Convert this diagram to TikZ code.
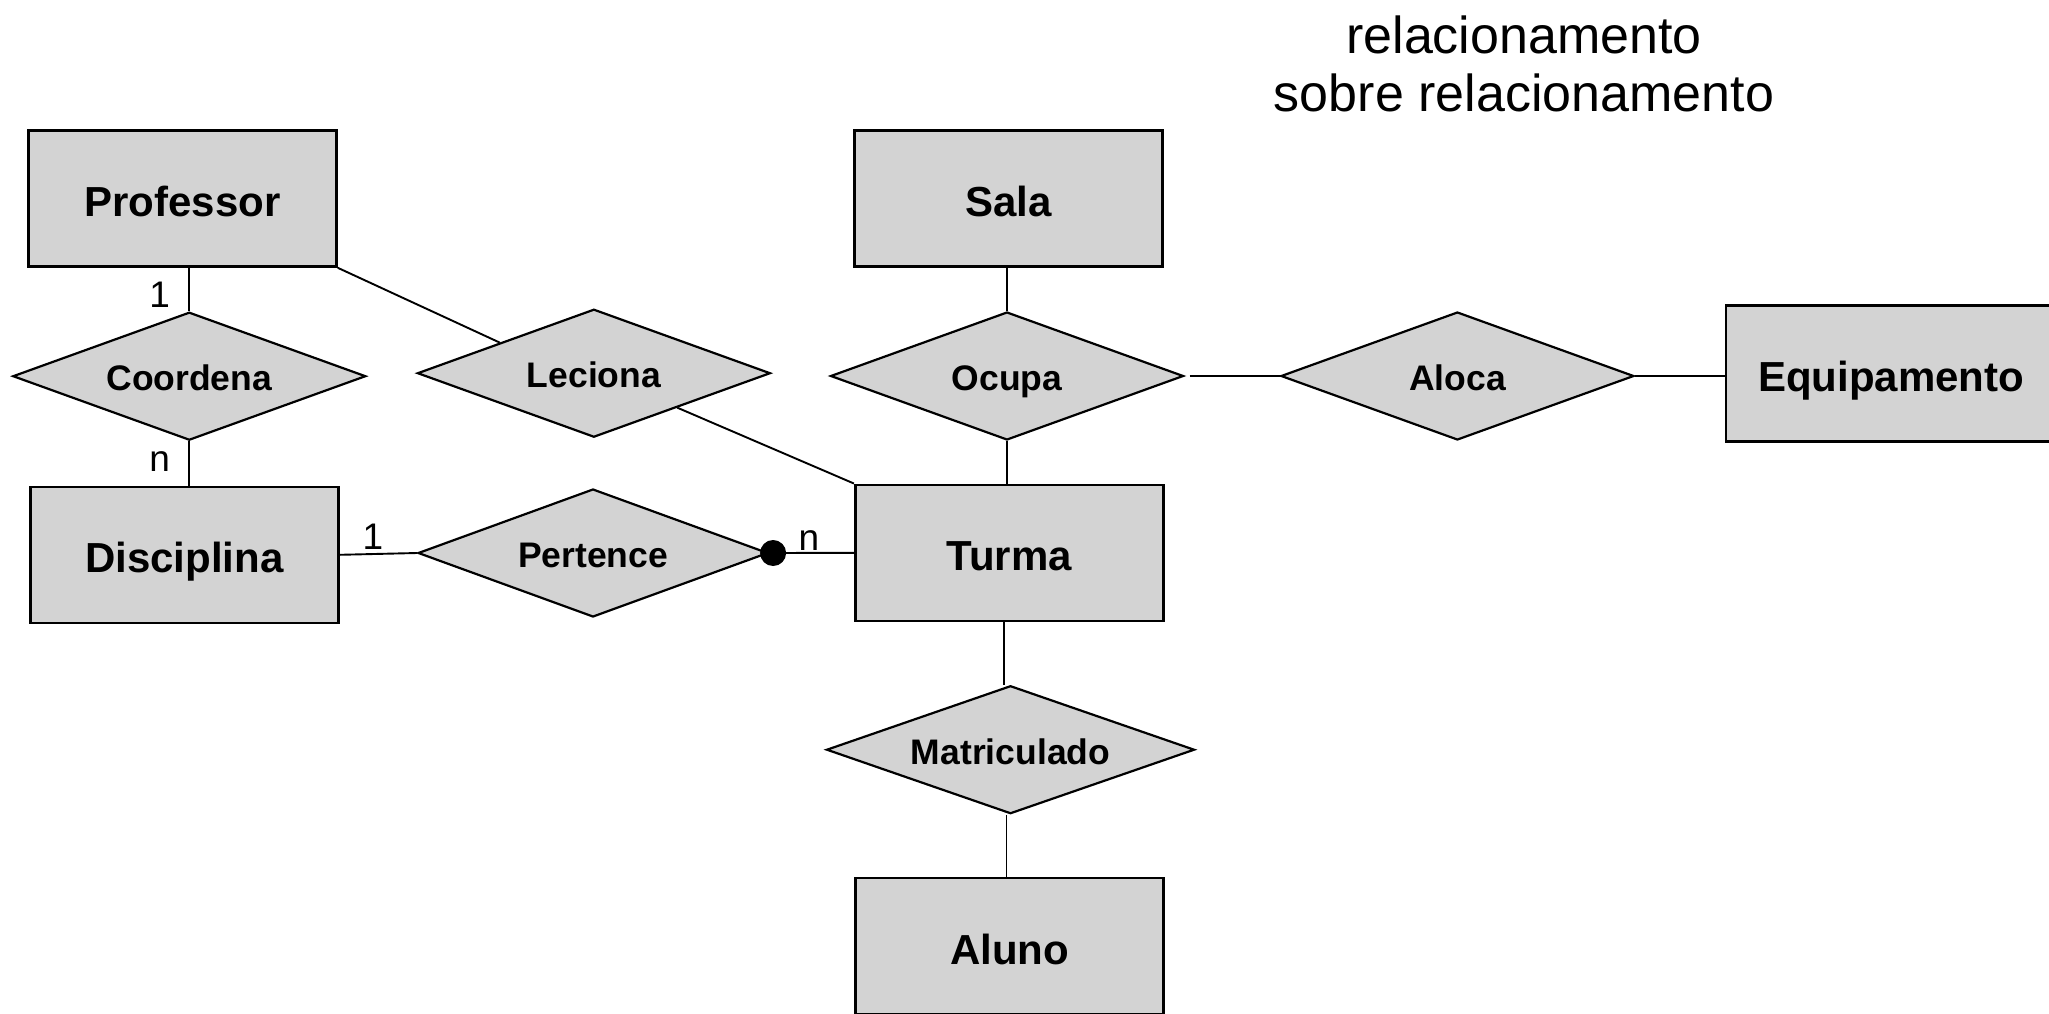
\documentclass[tikz,border=0pt]{standalone}
\usepackage{fontspec}
\setmainfont{Liberation Sans}
\usetikzlibrary{shapes.geometric,calc}
\definecolor{boxgray}{RGB}{211,211,211}
\begin{document}
\begin{tikzpicture}[x=1pt,y=-1pt,
  entity/.style={draw=black, fill=boxgray, line width=2.6pt, minimum width=308pt, minimum height=136pt, inner sep=0pt, text height=36pt, text depth=0pt, font=\fontsize{42}{48}\selectfont\bfseries},
  rel/.style={diamond, draw=black, fill=boxgray, line width=2.2pt, aspect=2.8, minimum width=353pt, minimum height=128pt, inner sep=0pt, text height=29pt, text depth=0pt, font=\fontsize{35.5}{40}\selectfont\bfseries},
  conn/.style={line width=1.9pt},
  card/.style={font=\fontsize{37}{42}\selectfont, inner sep=0pt},
  titletext/.style={font=\fontsize{52}{58}\selectfont, inner sep=0pt, anchor=base}]
\path[use as bounding box] (0,0) rectangle (2049,1013);
\clip (0,0) rectangle (2049,1013);

% title
\node[titletext] (t1) at (1524,53) {relacionamento};
\node[titletext] (t2) at (1524,111) {sobre relacionamento};

% entities
\node[entity] (prof) at (182.5,198.5) {Professor};
\node[entity] (sala) at (1008.4,198.3) {Sala};
\node[entity] (disc) at (184.3,554.8) {Disciplina};
\node[entity] (turma) at (1009.2,552.8) {Turma};
\node[entity] (aluno) at (1009.7,946) {Aluno};
\node[entity, minimum width=330pt] (equip) at (1891,373.3) {Equipamento};

% relationships
\node[rel] (coord) at (189.3,376.2) {Coordena};
\node[rel] (lec) at (593.9,373.2) {Leciona};
\node[rel, minimum width=350pt] (pert) at (593,553) {Pertence};
\node[rel] (ocupa) at (1007,376) {Ocupa};
\node[rel] (aloca) at (1457.4,376) {Aloca};
\node[rel, minimum width=368pt] (matr) at (1010.5,749.7) {Matriculado};

% helper coordinates
\coordinate (tm) at ($(turma.south)+(-5,0)$);
\coordinate (ma) at ($(matr.south)+(-4,0)$);

% connectors
\draw[conn] (coord.north) -- (coord.north |- prof.south);
\draw[conn] (coord.south) -- (coord.south |- disc.north);
\draw[conn] (prof.south east) -- ($(lec.west)!0.47!(lec.north)$);
\draw[conn] ($(lec.south)!0.47!(lec.east)$) -- (turma.north west);
\draw[conn] (disc.east) -- (pert.west);
\draw[conn] (pert.east) -- (turma.west);
\node[circle, fill=black, minimum size=26pt, inner sep=0pt] (dot) at ($(pert.east)+(4,0)$) {};
\draw[conn] (ocupa.north) -- (ocupa.north |- sala.south);
\draw[conn] (ocupa.south) -- (ocupa.south |- turma.north);
\draw[conn, shorten <=5pt] (ocupa.east) -- (aloca.west);
\draw[conn] (aloca.east) -- (aloca.east -| equip.west);
\draw[conn] (tm) -- (tm |- matr.north);
\draw[conn] (ma) -- (ma |- aluno.north);

% cardinalities
\node[card] (c1) at (159.7,295) {1};
\node[card] (c2) at (159.7,461.7) {n};
\node[card] (c3) at (373,537) {1};
\node[card] (c4) at (809,540.8) {n};
\end{tikzpicture}
\end{document}
